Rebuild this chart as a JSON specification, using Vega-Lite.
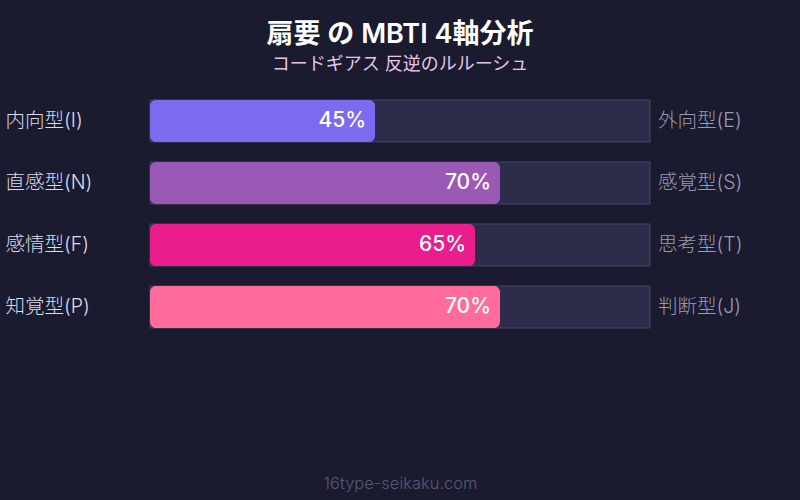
{
  "$schema": "https://vega.github.io/schema/vega-lite/v6.json",
  "autosize": "none",
  "width": 500,
  "height": 228,
  "padding": {"left": 150, "top": 100, "right": 150, "bottom": 172},
  "background": "#1a1b2e",
  "config": {
    "font": "Inter, Noto Sans CJK JP",
    "view": {"stroke": null}
  },
  "title": {
    "text": "扇要 の MBTI 4軸分析",
    "subtitle": "コードギアス 反逆のルルーシュ",
    "anchor": "middle",
    "frame": "group",
    "fontSize": 27,
    "fontWeight": 600,
    "color": "#ffffff",
    "subtitleFontSize": 18,
    "subtitleColor": "#e6c6e8",
    "subtitlePadding": 7,
    "offset": 25,
    "font": "Inter, Noto Sans CJK JP",
    "subtitleFont": "Inter, Noto Sans CJK JP"
  },
  "data": {
    "values": [
      {"left": "内向型(I)", "right": "外向型(E)", "value": 45, "full": 100},
      {"left": "直感型(N)", "right": "感覚型(S)", "value": 70, "full": 100},
      {"left": "感情型(F)", "right": "思考型(T)", "value": 65, "full": 100},
      {"left": "知覚型(P)", "right": "判断型(J)", "value": 70, "full": 100}
    ]
  },
  "encoding": {
    "y": {
      "field": "left",
      "type": "nominal",
      "sort": null,
      "scale": {"paddingInner": 0.3226, "paddingOuter": 0},
      "axis": {
        "title": null,
        "domain": false,
        "ticks": false,
        "labelAlign": "left",
        "labelPadding": 145,
        "labelFontSize": 19.5,
        "labelFontWeight": 300,
        "labelColor": "#dcdcee",
        "labelFont": "Inter, Noto Sans CJK JP"
      }
    }
  },
  "layer": [
    {
      "mark": {"type": "bar", "fill": "#2d2c4a", "stroke": "#45456a", "strokeWidth": 1},
      "encoding": {
        "x": {
          "field": "full",
          "type": "quantitative",
          "scale": {"domain": [0, 100]},
          "axis": {
            "grid": false,
            "domain": false,
            "ticks": false,
            "labels": false,
            "title": "16type-seikaku.com",
            "titleFontSize": 16.5,
            "titleFontWeight": 300,
            "titleColor": "#555a78",
            "titlePadding": 147,
            "titleFont": "Inter, Noto Sans CJK JP"
          }
        }
      }
    },
    {
      "mark": {"type": "bar", "cornerRadius": 6},
      "encoding": {
        "x": {"field": "value", "type": "quantitative"},
        "color": {
          "field": "left",
          "type": "nominal",
          "scale": {
            "domain": ["内向型(I)", "直感型(N)", "感情型(F)", "知覚型(P)"],
            "range": ["#7b6bee", "#9b59b6", "#e91e8c", "#ff6b9b"]
          },
          "legend": null
        }
      }
    },
    {
      "mark": {"type": "text", "align": "right", "dx": -9, "fontSize": 21, "fontWeight": 500, "color": "#ffffff", "text": {"expr": "datum.value + '%'"}},
      "encoding": {
        "x": {"field": "value", "type": "quantitative"},
        "detail": {"field": "left"}
      }
    },
    {
      "mark": {"type": "text", "align": "left", "dx": 8, "fontSize": 19.5, "fontWeight": 300, "color": "#9a9ab2"},
      "encoding": {
        "x": {"datum": 100},
        "text": {"field": "right"}
      }
    }
  ]
}
